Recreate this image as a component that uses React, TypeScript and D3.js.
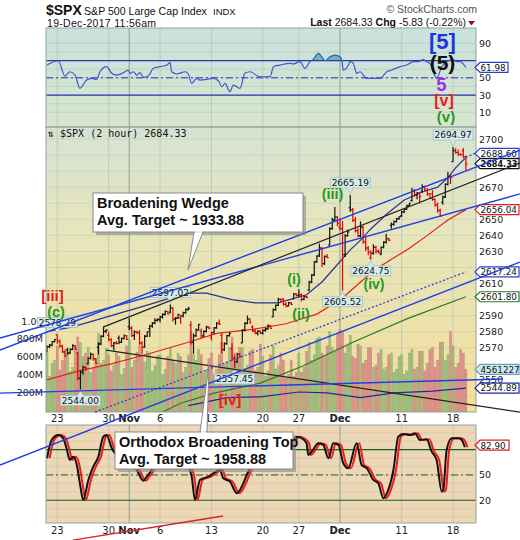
import React from "react";
import * as d3 from "d3";

type OHLC = [number, number, number, number];

// ---------- DATA ----------
// 2-hour bars, one inner array per trading day (Oct 20 .. Dec 19, 2017)
const ohlcByDay: OHLC[][] = [
  [[2567.6,2571.5,2567.6,2570.8],[2570.8,2572.4,2569.9,2571.6],[2571.6,2574.2,2571.0,2573.9],[2573.9,2575.4,2573.5,2575.2]],
  [[2578.1,2578.3,2572.5,2574.0],[2574.0,2575.2,2570.1,2571.0],[2571.0,2571.9,2566.8,2567.5],[2567.5,2568.2,2564.3,2565.0]],
  [[2568.7,2570.0,2565.6,2566.8],[2566.8,2569.6,2566.2,2569.0],[2569.0,2572.2,2568.5,2571.4],[2571.4,2571.8,2568.9,2569.1]],
  [[2566.5,2567.4,2549.5,2551.0],[2551.0,2556.0,2544.0,2554.8],[2554.8,2558.9,2553.2,2557.8],[2557.8,2558.5,2555.8,2557.2]],
  [[2560.1,2564.2,2559.8,2563.5],[2563.5,2567.1,2562.8,2565.9],[2565.9,2566.4,2562.0,2563.1],[2563.1,2563.6,2560.2,2560.4]],
  [[2570.3,2573.5,2565.9,2572.4],[2572.4,2577.8,2571.6,2577.2],[2577.2,2583.0,2576.5,2580.2],[2580.2,2581.6,2579.0,2581.1]],
  [[2577.8,2580.0,2574.0,2575.1],[2575.1,2576.0,2570.5,2571.4],[2571.4,2573.6,2568.3,2573.0],[2573.0,2574.2,2572.1,2572.8]],
  [[2576.0,2577.6,2572.2,2573.5],[2573.5,2576.4,2573.0,2575.8],[2575.8,2578.3,2575.1,2577.5],[2577.5,2577.9,2575.0,2575.3]],
  [[2583.2,2588.4,2581.0,2582.3],[2582.3,2583.5,2576.8,2577.6],[2577.6,2580.8,2574.9,2580.1],[2580.1,2580.6,2578.6,2579.4]],
  [[2579.5,2581.1,2571.8,2573.0],[2573.0,2574.1,2566.2,2570.5],[2570.5,2577.9,2570.0,2577.2],[2577.2,2580.2,2576.8,2579.9]],
  [[2581.9,2584.3,2576.8,2583.6],[2583.6,2586.0,2582.5,2585.4],[2585.4,2588.4,2584.7,2587.1],[2587.1,2588.2,2586.4,2587.8]],
  [[2587.5,2589.9,2585.7,2589.2],[2589.2,2591.5,2588.3,2590.8],[2590.8,2593.4,2590.1,2592.6],[2592.6,2593.0,2590.9,2591.1]],
  [[2592.1,2597.02,2591.5,2594.8],[2594.8,2595.3,2586.2,2587.9],[2587.9,2589.1,2584.4,2588.5],[2588.5,2591.2,2588.0,2590.6]],
  [[2588.7,2590.6,2585.0,2589.8],[2589.8,2592.5,2589.0,2591.9],[2591.9,2594.6,2591.2,2593.8],[2593.8,2595.5,2593.2,2594.4]],
  [[2584.0,2586.5,2572.0,2573.4],[2573.4,2579.0,2566.3,2577.5],[2577.5,2582.0,2576.8,2581.2],[2581.2,2584.9,2580.8,2584.6]],
  [[2580.2,2582.1,2575.6,2577.4],[2577.4,2580.9,2576.8,2580.2],[2580.2,2583.8,2579.5,2582.9],[2582.9,2583.3,2581.6,2582.3]],
  [[2576.5,2580.2,2574.5,2579.5],[2579.5,2583.0,2578.8,2582.4],[2582.4,2585.9,2581.9,2585.3],[2585.3,2587.7,2584.2,2584.8]],
  [[2577.8,2579.0,2566.6,2568.9],[2568.9,2573.4,2568.0,2572.6],[2572.6,2578.2,2571.9,2577.6],[2577.6,2579.7,2577.0,2578.9]],
  [[2569.5,2572.8,2562.0,2563.5],[2563.5,2565.0,2557.45,2561.3],[2561.3,2566.9,2560.6,2566.0],[2566.0,2566.7,2563.9,2564.6]],
  [[2573.0,2581.5,2573.0,2580.8],[2580.8,2586.0,2580.1,2585.2],[2585.2,2590.1,2584.6,2587.9],[2587.9,2588.3,2585.2,2585.6]],
  [[2582.9,2584.0,2579.8,2580.5],[2580.5,2581.6,2578.4,2579.2],[2579.2,2581.0,2577.6,2580.3],[2580.3,2580.9,2578.6,2578.9]],
  [[2579.5,2581.6,2578.2,2580.9],[2580.9,2582.5,2580.0,2581.8],[2581.8,2584.6,2581.2,2583.6],[2583.6,2584.0,2581.8,2582.1]],
  [[2589.2,2594.5,2589.2,2593.8],[2593.8,2597.0,2593.1,2596.5],[2596.5,2601.2,2596.0,2600.1],[2600.1,2600.8,2598.6,2599.0]],
  [[2600.3,2600.9,2596.2,2597.1],[2597.1,2598.4,2595.2,2596.0],[2596.0,2598.6,2595.8,2598.1],[2598.1,2598.5,2596.7,2597.1]],
  [[2600.4,2604.2,2600.4,2603.6],[2603.6,2604.0,2602.1,2602.4]],
  [[2602.7,2606.4,2601.5,2603.0],[2603.0,2603.9,2598.9,2600.2],[2600.2,2602.5,2599.6,2601.9],[2601.9,2602.4,2600.8,2601.4]],
  [[2605.9,2611.8,2605.4,2610.9],[2610.9,2616.0,2610.2,2615.3],[2615.3,2624.1,2614.7,2623.5],[2623.5,2627.7,2622.9,2627.0]],
  [[2627.8,2634.9,2626.5,2632.1],[2632.1,2632.8,2620.3,2622.4],[2622.4,2627.5,2621.6,2626.9],[2626.9,2628.4,2625.7,2626.1]],
  [[2633.9,2645.1,2633.9,2644.2],[2644.2,2651.0,2643.5,2649.7],[2649.7,2657.7,2649.0,2651.3],[2651.3,2652.0,2645.8,2647.6]],
  [[2645.1,2650.6,2643.0,2644.2],[2644.2,2649.0,2605.52,2628.0],[2628.0,2640.8,2626.6,2639.9],[2639.9,2643.6,2639.3,2642.2]],
  [[2657.2,2665.19,2654.5,2656.0],[2656.0,2657.1,2648.3,2649.4],[2649.4,2651.5,2641.8,2643.0],[2643.0,2644.6,2639.0,2639.4]],
  [[2639.8,2648.7,2638.9,2645.1],[2645.1,2646.0,2634.8,2636.0],[2636.0,2638.9,2630.3,2632.1],[2632.1,2633.4,2627.7,2629.6]],
  [[2626.2,2630.8,2624.75,2628.9],[2628.9,2634.4,2628.0,2632.5],[2632.5,2633.6,2628.6,2630.1],[2630.1,2631.2,2628.8,2629.3]],
  [[2628.4,2633.0,2627.7,2632.6],[2632.6,2636.4,2631.9,2635.7],[2635.7,2641.0,2634.9,2637.9],[2637.9,2638.5,2636.4,2637.0]],
  [[2646.2,2648.0,2644.1,2646.9],[2646.9,2649.3,2646.0,2648.6],[2648.6,2650.9,2648.0,2650.3],[2650.3,2651.7,2649.8,2651.5]],
  [[2652.2,2655.3,2651.5,2654.6],[2654.6,2657.0,2653.9,2656.4],[2656.4,2659.0,2655.8,2658.5],[2658.5,2660.3,2658.0,2660.0]],
  [[2661.7,2669.7,2660.9,2667.8],[2667.8,2668.9,2664.0,2665.2],[2665.2,2667.0,2662.5,2666.3],[2666.3,2666.8,2659.8,2664.1]],
  [[2667.6,2671.9,2666.5,2670.4],[2670.4,2671.0,2667.2,2668.1],[2668.1,2669.5,2664.5,2665.9],[2665.9,2666.4,2662.9,2662.9]],
  [[2665.9,2668.1,2661.5,2662.4],[2662.4,2663.0,2657.8,2659.0],[2659.0,2660.4,2654.1,2655.5],[2655.5,2656.6,2652.0,2652.0]],
  [[2660.6,2664.8,2659.1,2663.9],[2663.9,2672.5,2663.2,2671.8],[2671.8,2679.6,2671.0,2676.6],[2676.6,2677.9,2672.0,2675.8]],
  [[2685.9,2694.97,2685.9,2692.8],[2692.8,2694.2,2690.8,2691.6],[2691.6,2693.4,2689.2,2690.5],[2690.5,2691.2,2689.5,2690.2]],
  [[2692.7,2694.4,2688.0,2689.1],[2689.1,2689.6,2680.7,2684.33]],
];

// volume (millions) per bar, per day
const volumeByDay: number[][] = [
  [650,380,520,560],[720,450,560,680],[640,430,480,700],[820,760,600,640],[700,420,480,580],
  [860,520,560,690],[620,440,500,640],[600,400,470,720],[780,480,560,650],[720,600,540,660],
  [640,430,500,610],[620,400,460,600],[700,560,520,640],[600,420,480,620],[880,620,560,680],
  [620,420,450,580],[640,400,460,620],[760,520,540,700],[820,640,580,700],[700,460,500,660],
  [680,440,480,740],[600,380,440,620],[720,460,500,640],[560,360,400,560],[380,420],
  [640,420,480,660],[760,560,620,800],[820,640,600,720],[880,700,660,860],[900,880,640,720],
  [840,600,580,740],[720,520,560,700],[700,480,500,640],[680,460,480,620],[640,420,460,600],
  [620,400,440,640],[680,460,480,660],[660,440,520,680],[700,480,560,760],[760,560,620,880],
  [720,480,520,680],[640,456.1],
];

// date axis ticks: label and trading-day index
const dateTickLabels = ["23", "30", "Nov", "6", "13", "20", "27", "Dec", "11", "18"];
const dateTickDays = [1, 6, 8, 11, 16, 21, 25, 29, 35, 40];
const monthTicks = ["Nov", "Dec"];

// RSI (top panel): [bar index, value]
const rsiPoints: [number, number][] = [
  [0,64.8],[4.4,69.8],[7,52],[8.9,57],[10.9,53.2],[12.8,37.8],[15.4,47.4],[17.4,49.4],[19.3,48.2],
  [20.6,57],[23.2,62.9],[25.2,55.2],[27.1,53.2],[30.4,57],[31.6,59],[32.3,55.2],[33.6,57],[34.9,53.2],
  [36.2,55.9],[37.5,50.5],[39.4,52],[41.4,61],[44,62.9],[46.6,64.8],[47.9,67.5],[48.5,57],[50.5,54.4],
  [53.7,57],[55,54.4],[56.3,43.6],[58.2,49.4],[59.5,47.4],[62.1,48.2],[64.7,49.4],[66.7,46.6],[68,39.7],
  [69.3,43.6],[71.2,33.9],[72.5,41.6],[75.1,37.8],[77,55.2],[79,57],[82.9,51],[86.8,51.3],[88.1,62.9],
  [90.7,64.8],[94.6,66.8],[95.8,66],[98.4,68.7],[100.4,61],[102.3,68.7],[103.6,71.4],[105.6,78.4],
  [106.9,74.5],[108.2,69.8],[110.1,74.5],[112.1,76.4],[114,74.5],[114.7,70.6],[115.3,59],[117.3,64.8],
  [117.9,68.7],[119.2,66.8],[120.5,55.2],[121.8,57],[124.4,49.4],[127,49.4],[129.6,49.4],[132.2,57],
  [134.1,59],[137.4,62.9],[140,64.8],[142.5,68.7],[144.5,68.7],[146.4,71.2],[147.7,68.7],[149,66.8],
  [150.3,57],[151.6,49.4],[153.6,62.9],[155.5,68.7],[158.1,71],[159.4,68.7],[160.7,68.7],[163,61.98],
];

// Stochastic-type oscillator (bottom panel): [bar index, value]
const stochPoints: [number, number][] = [
  [0,69.8],[1.8,91.5],[4.4,97.4],[6.3,93.5],[7.6,81.7],[8.9,67.8],[10.2,71.7],[11.6,61.9],[12.8,40.2],
  [14.1,20.3],[16.1,44.1],[18,59.8],[20,71.7],[21.9,95.4],[23.2,97.4],[25.2,81.7],[26.5,75.7],[29,68],
  [31,72],[33,62],[34.9,55.9],[37.5,43.2],[38.8,48],[40.7,55.9],[43,72],[46,88],[49,92],[52,78],
  [55.6,55.9],[56.3,48],[57.6,20.3],[59.5,44.1],[60.8,46],[62.8,48],[64.7,52],[67.3,55.9],[68.6,46],
  [71.2,42.1],[73.8,28.3],[75.1,32.2],[76.4,40.2],[78,52],[80,62],[84,75],[88,85],[92,88],[95.8,91.5],
  [97.2,95.4],[99.1,93.5],[101,87.6],[101.7,73.7],[103,77.6],[105.6,87.6],[107.5,85.6],[109.5,69.8],
  [111.4,87.6],[113.4,85.6],[115.3,63.9],[117.2,58],[120.5,87.6],[122.4,61.9],[124.4,58],[127,44.1],
  [128.9,40.2],[130.9,22.4],[132.8,32.2],[134.8,55.9],[136.7,95.4],[138.6,98.6],[141.2,97.4],
  [143.2,99.4],[145.1,91.5],[147.7,92.3],[149.7,77.6],[151.6,67.8],[153.6,30.2],[154.2,32.2],
  [155.5,79.7],[157.5,93.5],[160.1,93.5],[161.4,91.5],[162.6,82.9],
];

// overlays on price: [bar index, price]
const maNavy: [number, number][] = [
  [0,2580],[10,2583],[25,2590],[40,2597],[54,2604],[62,2604],[72,2600],[81,2598],[90,2598],[101,2603],
  [107,2611],[112,2620],[118,2631],[122,2637],[126,2644],[132,2653],[139,2662],[146,2667],[152,2670],
  [156,2676],[159,2682],[163,2688.6],
];
const maRed: [number, number][] = [
  [0,2550],[12,2555.5],[25,2560],[39,2566],[54,2573],[66,2579],[80,2581.5],[93,2585],[105,2591],
  [115,2601],[122,2611],[128,2619],[135,2626],[141,2632],[148,2640],[156,2649.6],[163,2656.04],
];
const maGreen: [number, number][] = [
  [45,2530],[52,2535.5],[65,2541.8],[83,2548],[100,2559],[119,2573.5],[140,2588],[163,2601.8],
];
const lowNavy: [number, number][] = [
  [55,2534],[70,2539],[83,2539.5],[98,2542.5],[109,2542],[122,2539],[135,2542],[150,2543],[163,2544.89],
];

// annotation trend lines: endpoints as [bar index, price]
const trendNames = ["wedgeUpper","wedgeLower","channelBlack","topBlack","lowerBlue","dotted","flatBlue","redBottom"];
const trendFrom: [number, number][] = [[-18.3,2568.6],[-18.3,2576.1],[21.8,2582.9],[23,2568.6],[-18.3,2497.0],[18.7,2530],[-18.3,2541.8],[10.1,2450.3]];
const trendTo: [number, number][] = [[184,2693.0],[184,2665.8],[184,2685.1],[184,2530.0],[184,2623.4],[163,2617.24],[177.4,2550.6],[68.5,2465.3]];

// price annotations (high/low tags)
const tagTexts = ["2578.29","2597.02","2665.19","2694.97","2605.52","2624.75","2557.45","2544.00"];
const tagBars = [4, 48, 118, 158, 115, 126, 73, 13];
const tagPrices = [2578.29, 2597.02, 2665.19, 2694.97, 2605.52, 2624.75, 2557.45, 2544.00];
const tagAbove = [true, true, true, true, false, false, false, false];

// last values shown on right axis
const lastRsi = 61.98;
const lastNavy = 2688.60;
const lastClose = 2684.33;
const lastRed = 2656.04;
const lastDotted = 2617.24;
const lastGreen = 2601.80;
const lastVolume = 4561227;
const lastLowNavy = 2544.89;
const lastStoch = 82.90;

const priceTicks = d3.range(2540, 2701, 10);
const volumeTicks = [200, 400, 600, 800, 1000];
const volumeTickLabels = ["200M", "400M", "600M", "800M", "1.0B"];
const rsiTicks = [90, 70, 50, 30, 10];
const stochTicks = [50, 20];

// ---------- LAYOUT ----------
const W = 520, H = 540;
const L = 46, R = 476;
const RSI_T = 28, RSI_B = 127, MAIN_T = 127, MAIN_B = 412, LOW_T = 425, LOW_B = 523;
const SANS = "'Liberation Sans', Arial, sans-serif";
const VER = "'DejaVu Sans', Verdana, sans-serif";
const MONO = "'DejaVu Sans Mono', monospace";

const bars: OHLC[] = ohlcByDay.flat();
const vols: number[] = volumeByDay.flat();
const dayStart: number[] = [];
{
  let acc = 0;
  ohlcByDay.forEach((d) => { dayStart.push(acc); acc += d.length; });
}
const N = bars.length;

const x = d3.scaleLinear().domain([0, N - 1]).range([47, 465.9]);
const yP = d3.scaleLinear().domain([2540, 2700]).range([396, 139]);
const yV = d3.scaleLinear().domain([0, 1000]).range([410, 321]);
const yR = d3.scaleLinear().domain([0, 100]).range([120.9, 34.7]);
const yS = d3.scaleLinear().domain([0, 100]).range([517.1, 432.8]);

const lineP = d3.line<[number, number]>().x((d) => x(d[0])).y((d) => yP(d[1]));
const lineR = d3.line<[number, number]>().x((d) => x(d[0])).y((d) => yR(d[1])).curve(d3.curveMonotoneX);
const lineS = d3.line<[number, number]>().x((d) => x(d[0])).y((d) => yS(d[1])).curve(d3.curveMonotoneX);
const areaR = d3.area<[number, number]>().x((d) => x(d[0])).y0(yR(70)).y1((d) => yR(Math.max(70, d[1]))).curve(d3.curveMonotoneX);

const trendStyle: Record<string, { stroke: string; width: number; dash?: string }> = {
  wedgeUpper: { stroke: "#1f3fe6", width: 1.4 },
  wedgeLower: { stroke: "#1f3fe6", width: 1.4 },
  channelBlack: { stroke: "#222", width: 1.2 },
  topBlack: { stroke: "#222", width: 1.2 },
  lowerBlue: { stroke: "#1f3fe6", width: 1.4 },
  dotted: { stroke: "#3340c8", width: 1.3, dash: "2,2" },
  flatBlue: { stroke: "#1f3fe6", width: 1.4 },
  redBottom: { stroke: "#e02020", width: 1.4 },
};

// right-axis value tags (y position from the scales, small nudges to avoid stacking)
const valueTags = [
  { y: yR(lastRsi), text: lastRsi.toFixed(2), stroke: "#2a3fd0", fill: "#fff", bold: false, w: 33 },
  { y: yP(lastNavy) - 4, text: lastNavy.toFixed(2), stroke: "#2a3fd0", fill: "#fff", bold: false, w: 44 },
  { y: yP(lastClose) - 0.6, text: lastClose.toFixed(2), stroke: "#111", fill: "#fff", bold: true, w: 44 },
  { y: yP(lastRed), text: lastRed.toFixed(2), stroke: "#e02020", fill: "#fff", bold: false, w: 44 },
  { y: yP(lastDotted), text: lastDotted.toFixed(2), stroke: "#2a3fd0", fill: "#fff", bold: false, w: 44 },
  { y: yP(lastGreen), text: lastGreen.toFixed(2), stroke: "#2a7a22", fill: "#fff", bold: false, w: 44 },
  { y: yV(lastVolume / 10000), text: String(lastVolume), stroke: "#6aa0b8", fill: "#cfe9f3", bold: false, w: 44 },
  { y: yP(lastLowNavy), text: lastLowNavy.toFixed(2), stroke: "#1d2a9a", fill: "#fff", bold: false, w: 44 },
  { y: yS(lastStoch) - 2, text: lastStoch.toFixed(2), stroke: "#e02020", fill: "#fff", bold: false, w: 34 },
];
const tagYs = valueTags.map((t) => t.y);
const freeOfTags = (y: number) => tagYs.every((ty) => Math.abs(ty - y) > 8);

function ValueTag({ y, text, stroke, fill, bold, w }: any) {
  const x0 = 475;
  const pts = [[x0, y], [x0 + 5, y - 5], [x0 + w, y - 5], [x0 + w, y + 5], [x0 + 5, y + 5]];
  return (
    <g>
      <polygon points={pts.map((p) => p.join(",")).join(" ")} fill={fill} stroke={stroke} strokeWidth={1.2} />
      <text x={x0 + 5.5} y={y + 3.3} fontFamily={VER} fontSize={8.8} fontWeight={bold ? "bold" : "normal"} fill="#111"
        textLength={bold ? w - 7 : undefined} lengthAdjust="spacingAndGlyphs">{text}</text>
    </g>
  );
}

function PriceTag({ i, p, text, above }: any) {
  const cx = x(i);
  const py = yP(p);
  const w = 40, h = 10, gap = above ? 7 : 6;
  const by = above ? py - gap - h : py + gap;
  const tip = above ? py - 1 : py + 1;
  const base = above ? by + h : by;
  return (
    <g>
      <polygon points={`${cx - 3},${base} ${cx + 3},${base} ${cx},${tip}`} fill="#d6ecec" stroke="#9fc0c0" strokeWidth={0.8} />
      <rect x={cx - w / 2} y={by} width={w} height={h} fill="#d6ecec" stroke="#9fc0c0" strokeWidth={0.8} />
      <line x1={cx - 2.6} x2={cx + 2.6} y1={base} y2={base} stroke="#d6ecec" strokeWidth={1.2} />
      <text x={cx} y={by + 8.3} textAnchor="middle" fontFamily={VER} fontSize={9} fill="#111">{text}</text>
    </g>
  );
}

function Callout({ bx, by, bw, bh, tip, base, lines }: any) {
  return (
    <g>
      <rect x={bx + 3} y={by + 3} width={bw} height={bh} fill="#8a8a8a" opacity={0.6} />
      <polygon points={`${base[0]},${base[1]} ${base[2]},${base[1]} ${tip[0]},${tip[1]}`} fill="#fff" stroke="#888" strokeWidth={1} />
      <rect x={bx} y={by} width={bw} height={bh} fill="#fff" stroke="#888" strokeWidth={1} />
      <line x1={base[0] + 1} x2={base[2] - 1} y1={base[1]} y2={base[1]} stroke="#fff" strokeWidth={1.5} />
      {lines.map((t: string, k: number) => (
        <text key={k} x={bx + 4} y={by + 15 + k * 17} fontFamily={SANS} fontWeight="bold" fontSize={14.5} fill="#111">{t}</text>
      ))}
    </g>
  );
}

export default function App() {
  const tickX = dateTickDays.map((d) => x(dayStart[d]));
  const closes = bars.map((b) => b[3]);
  const upAt = (i: number) => (i === 0 ? true : closes[i] >= closes[i - 1]);

  return (
    <svg width={W} height={H} viewBox={`0 0 ${W} ${H}`} style={{ display: "block", position: "absolute", left: 0, top: 0, background: "#fff" }}>
      <defs>
        <linearGradient id="gMain" x1="0" y1="0" x2="0" y2="1">
          <stop offset="0" stopColor="#d6e3d4" />
          <stop offset="0.35" stopColor="#e6e5bd" />
          <stop offset="1" stopColor="#f3df9a" />
        </linearGradient>
        <linearGradient id="gRsi" x1="0" y1="0" x2="0" y2="1">
          <stop offset="0" stopColor="#c8e2dd" />
          <stop offset="1" stopColor="#d8e6cd" />
        </linearGradient>
        <clipPath id="cMain"><rect x={L} y={MAIN_T} width={R - L} height={MAIN_B - MAIN_T} /></clipPath>
        <clipPath id="cRsi"><rect x={L} y={RSI_T} width={R - L} height={RSI_B - RSI_T} /></clipPath>
        <clipPath id="cLow"><rect x={L} y={LOW_T} width={R - L} height={LOW_B - LOW_T} /></clipPath>
      </defs>

      {/* header */}
      <text x={46} y={15} fontFamily={SANS} fontWeight="bold" fontSize={14} fill="#111">$SPX</text>
      <text x={84} y={15} fontFamily={SANS} fontSize={10.6} fill="#111">S&amp;P 500 Large Cap Index</text>
      <text x={213} y={15} fontFamily={SANS} fontSize={9.5} fill="#111">INDX</text>
      <text x={47} y={26.5} fontFamily={SANS} fontSize={10.5} fill="#111" letterSpacing={0.3}>19-Dec-2017 11:56am</text>
      <text x={477} y={12.5} textAnchor="end" fontFamily={SANS} fontSize={10.5} fill="#555">© StockCharts.com</text>
      <text x={466} y={26} textAnchor="end" fontFamily={SANS} fontSize={10.5} fill="#111">
        <tspan fontWeight="bold">Last</tspan>
        <tspan> 2684.33 </tspan>
        <tspan fontWeight="bold"> Chg</tspan>
        <tspan> -5.83 (-0.22%)</tspan>
      </text>
      <path d="M468,21 L475,21 L471.5,25.5 Z" fill="#8a1030" />

      {/* panel backgrounds */}
      <rect x={L} y={RSI_T} width={R - L} height={RSI_B - RSI_T} fill="url(#gRsi)" />
      <rect x={L} y={MAIN_T} width={R - L} height={MAIN_B - MAIN_T} fill="url(#gMain)" />
      <rect x={L} y={LOW_T} width={R - L} height={LOW_B - LOW_T} fill="#ecd7b6" />

      {/* horizontal grids */}
      <g stroke="#b4c6b6" strokeWidth={0.7} opacity={0.8}>
        {d3.range(10, 100, 10).map((v) => <line key={"r" + v} x1={L} x2={R} y1={yR(v)} y2={yR(v)} />)}
      </g>
      <g stroke="#cfd0b0" strokeWidth={0.7}>
        {priceTicks.map((v) => <line key={"p" + v} x1={L} x2={R} y1={yP(v)} y2={yP(v)} />)}
      </g>
      <g stroke="#dcc7a4" strokeWidth={0.7}>
        {d3.range(0, 101, 10).map((v) => <line key={"s" + v} x1={L} x2={R} y1={yS(v)} y2={yS(v)} />)}
      </g>

      {/* vertical grids */}
      {tickX.map((tx, k) => {
        const month = monthTicks.includes(dateTickLabels[k]);
        const c = month ? "#93a69a" : "#b7c5b8";
        return (
          <g key={"v" + k} stroke={c} strokeWidth={month ? 1.1 : 0.8}>
            <line x1={tx} x2={tx} y1={RSI_T} y2={RSI_B} />
            <line x1={tx} x2={tx} y1={MAIN_T} y2={MAIN_B} />
            <line x1={tx} x2={tx} y1={LOW_T} y2={LOW_B} />
          </g>
        );
      })}

      {/* RSI panel */}
      <g clipPath="url(#cRsi)">
        <path d={areaR(rsiPoints) || ""} fill="#5fb0a8" opacity={0.85} />
        <line x1={L} x2={R} y1={yR(70)} y2={yR(70)} stroke="#2a35b0" strokeWidth={1.2} />
        <line x1={L} x2={R} y1={yR(30)} y2={yR(30)} stroke="#2a35b0" strokeWidth={1.2} />
        <line x1={L} x2={R} y1={yR(50)} y2={yR(50)} stroke="#2a35b0" strokeWidth={1} strokeDasharray="7,3,2,3" />
        <path d={lineR(rsiPoints) || ""} fill="none" stroke="#3d55d6" strokeWidth={1.2} />
      </g>
      {rsiTicks.filter((v) => freeOfTags(yR(v))).map((v) => (
        <text key={"rt" + v} x={479} y={yR(v) + 3.5} fontFamily={VER} fontSize={9.5} fill="#222">{v}</text>
      ))}

      {/* main panel contents */}
      <g clipPath="url(#cMain)">
        {vols.map((v, i) => {
          const up = upAt(i);
          return (
            <rect key={"vb" + i} x={x(i) - 1} y={yV(v)} width={2} height={MAIN_B - yV(v)}
              fill={up ? "#9cbe7e" : "#dc8c8c"} stroke={up ? "#789e5c" : "#c46c6c"} strokeWidth={0.4} opacity={0.9} />
          );
        })}
        <path d={lineP(lowNavy) || ""} fill="none" stroke="#1d2a9a" strokeWidth={1.2} />
        <path d={lineP(maGreen) || ""} fill="none" stroke="#2a7a22" strokeWidth={1.2} />
        <path d={lineP(maRed) || ""} fill="none" stroke="#e0241c" strokeWidth={1.2} />
        <path d={lineP(maNavy) || ""} fill="none" stroke="#26309a" strokeWidth={1.2} />
        {bars.map((b, i) => {
          const c = upAt(i) ? "#111" : "#e00000";
          const xi = x(i);
          return (
            <g key={"b" + i} stroke={c} strokeWidth={1.2}>
              <line x1={xi} x2={xi} y1={yP(b[1])} y2={yP(b[2])} />
              <line x1={xi - 1.6} x2={xi} y1={yP(b[0])} y2={yP(b[0])} />
              <line x1={xi} x2={xi + 1.6} y1={yP(b[3])} y2={yP(b[3])} />
            </g>
          );
        })}
      </g>
      <text x={48} y={137} fontFamily={MONO} fontSize={10} fill="#111">⇅ $SPX (2 hour) 2684.33</text>

      {/* lower panel */}
      <g clipPath="url(#cLow)">
        <line x1={L} x2={R} y1={yS(80)} y2={yS(80)} stroke="#1c5e1c" strokeWidth={1.2} />
        <line x1={L} x2={R} y1={yS(20)} y2={yS(20)} stroke="#1c5e1c" strokeWidth={1.2} />
        <line x1={L} x2={R} y1={yS(50)} y2={yS(50)} stroke="#1c5e1c" strokeWidth={1} strokeDasharray="7,3,2,3" />
        <path d={lineS(stochPoints.map((d) => [d[0] + 1, d[1]] as [number, number])) || ""} fill="none" stroke="#ee1c1c" strokeWidth={2} />
        <path d={lineS(stochPoints) || ""} fill="none" stroke="#111" strokeWidth={2} />
      </g>
      {stochTicks.map((v) => (
        <text key={"st" + v} x={479} y={yS(v) + 3.5} fontFamily={VER} fontSize={9.5} fill="#222">{v}</text>
      ))}

      {/* panel borders */}
      <g fill="none" stroke="#93a3a3" strokeWidth={1}>
        <rect x={L} y={RSI_T} width={R - L} height={RSI_B - RSI_T} />
        <rect x={L} y={MAIN_T} width={R - L} height={MAIN_B - MAIN_T} />
        <rect x={L} y={LOW_T} width={R - L} height={LOW_B - LOW_T} />
      </g>

      {/* date labels */}
      {tickX.map((tx, k) => {
        const month = monthTicks.includes(dateTickLabels[k]);
        return (
          <g key={"dl" + k}>
            <text x={tx} y={422} textAnchor="middle" fontFamily={VER} fontSize={10} fontWeight={month ? "bold" : "normal"} fill="#222">{dateTickLabels[k]}</text>
            <text x={tx} y={534} textAnchor="middle" fontFamily={VER} fontSize={10} fontWeight={month ? "bold" : "normal"} fill="#222">{dateTickLabels[k]}</text>
          </g>
        );
      })}

      {/* right price axis & left volume axis */}
      {priceTicks.filter((v) => freeOfTags(yP(v))).map((v) => (
        <text key={"pt" + v} x={479} y={yP(v) + 3.5} fontFamily={VER} fontSize={9.5} fill="#222">{v}</text>
      ))}
      {volumeTicks.map((v, k) => (
        <text key={"vt" + v} x={43} y={yV(v) + 3.5} textAnchor="end" fontFamily={VER} fontSize={9.5} fill="#222">{volumeTickLabels[k]}</text>
      ))}

      {/* high / low tags */}
      {tagTexts.map((t, k) => (
        <PriceTag key={"tag" + k} i={tagBars[k]} p={tagPrices[k]} text={t} above={tagAbove[k]} />
      ))}

      {/* right-axis value tags */}
      <line x1={x(N - 1)} x2={475} y1={yP(lastNavy)} y2={yP(lastNavy) - 4} stroke="#2a3fd0" strokeDasharray="2,2" strokeWidth={1.2} />
      {valueTags.map((t, k) => <ValueTag key={"vtag" + k} {...t} />)}

      {/* trend lines (annotations) */}
      {trendNames.map((n, k) => {
        const s = trendStyle[n];
        return (
          <line key={"tl" + n} x1={x(trendFrom[k][0])} y1={yP(trendFrom[k][1])} x2={x(trendTo[k][0])} y2={yP(trendTo[k][1])}
            stroke={s.stroke} strokeWidth={s.width} strokeDasharray={s.dash} />
        );
      })}

      {/* Elliott wave labels */}
      <g fontFamily={SANS} fontWeight="bold" textAnchor="middle">
        <text x={442.5} y={49} fontSize={22} fill="#1a35e0">[5]</text>
        <text x={442.5} y={70} fontSize={21} fill="#111">(5)</text>
        <text x={441.5} y={90.5} fontSize={18.5} fill="#a22ee6">5</text>
        <text x={444} y={106} fontSize={16} fill="#e81c1c">[v]</text>
        <text x={446} y={122} fontSize={15} fill="#239a23">(v)</text>
        <text x={332.5} y={198.5} fontSize={14.5} fill="#239a23">(iii)</text>
        <text x={294} y={284} fontSize={14.5} fill="#239a23">(i)</text>
        <text x={301} y={319} fontSize={14.5} fill="#239a23">(ii)</text>
        <text x={374} y={289} fontSize={14} fill="#239a23">(iv)</text>
        <text x={52.5} y={301} fontSize={15} fill="#e81c1c">[iii]</text>
        <text x={56} y={316.5} fontSize={14.5} fill="#239a23">(c)</text>
        <text x={230} y={405} fontSize={15} fill="#e81c1c">[iv]</text>
      </g>

      {/* callouts */}
      <Callout bx={93} by={193} bw={210} bh={39} tip={[188, 270]} base={[194, 232, 203]}
        lines={["Broadening Wedge", "Avg. Target ~ 1933.88"]} />
      <Callout bx={115} by={432} bw={178} bh={37} tip={[209, 365]} base={[200, 432, 207]}
        lines={["Orthodox Broadening Top", "Avg. Target ~ 1958.88"]} />
    </svg>
  );
}
